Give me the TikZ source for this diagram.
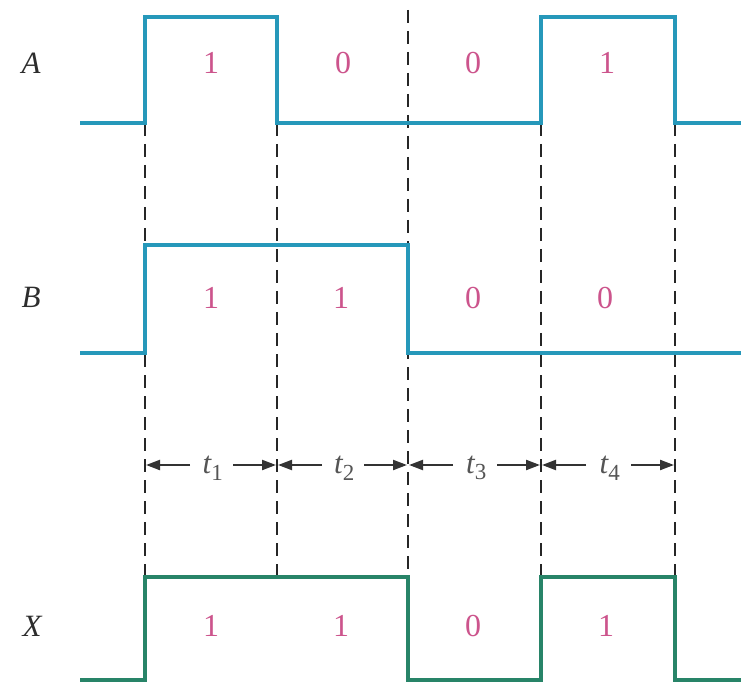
\documentclass[tikz,border=0pt]{standalone}
\usepackage{fontspec}
\setmainfont{Liberation Serif}
\usetikzlibrary{arrows.meta}
\definecolor{wavA}{RGB}{38,152,186}
\definecolor{wavX}{RGB}{40,132,104}
\definecolor{bitc}{RGB}{204,84,140}
\definecolor{lblc}{RGB}{45,45,45}
\definecolor{tc}{RGB}{85,85,85}
\tikzset{
  wave/.style={line width=3.8pt, line join=miter, line cap=butt},
  guide/.style={line width=2pt, dash pattern=on 13pt off 8pt, black!85},
  bit/.style={text=bitc, font=\fontsize{32}{34}\selectfont, inner sep=0pt},
  sig/.style={text=lblc, font=\fontsize{31}{34}\selectfont\itshape, inner sep=0pt},
  tlabel/.style={text=tc, font=\fontsize{31}{34}\selectfont\itshape, inner sep=0pt},
  span/.style={line width=2.2pt, black!80, -{Triangle[length=14pt,width=10pt]}},
}
\begin{document}
\begin{tikzpicture}[x=1pt,y=-1pt]
\useasboundingbox (0,0) rectangle (741,684);

% dashed guides at every edge
\draw[guide] (145,123) -- (145,577);
\draw[guide] (277,123) -- (277,577);
\draw[guide] (408,10) -- (408,577);
\draw[guide] (541,123) -- (541,577);
\draw[guide] (675,123) -- (675,577);

% waveform A
\draw[wave, wavA] (80,123) -- (145,123) -- (145,17) -- (277,17) -- (277,123)
  -- (541,123) -- (541,17) -- (675,17) -- (675,123) -- (741,123);
% waveform B
\draw[wave, wavA] (80,353) -- (145,353) -- (145,245) -- (408,245) -- (408,353)
  -- (741,353);
% waveform X
\draw[wave, wavX] (80,680) -- (145,680) -- (145,577) -- (408,577) -- (408,680)
  -- (541,680) -- (541,577) -- (675,577) -- (675,680) -- (741,680);

% signal names
\node[sig] (lA) at (31,63) {A};
\node[sig] (lB) at (31,297) {B};
\node[sig] (lX) at (32,626) {X};

% bit values
\node[bit] (a1) at (211,63) {1};
\node[bit] (a2) at (343,63) {0};
\node[bit] (a3) at (473,63) {0};
\node[bit] (a4) at (607,63) {1};
\node[bit] (b1) at (211,298) {1};
\node[bit] (b2) at (341,298) {1};
\node[bit] (b3) at (473,298) {0};
\node[bit] (b4) at (605,298) {0};
\node[bit] (x1) at (211,626) {1};
\node[bit] (x2) at (341,626) {1};
\node[bit] (x3) at (473,626) {0};
\node[bit] (x4) at (606,626) {1};

% interval markers between consecutive edges
\foreach \i/\l/\r in {1/145/277,2/277/408,3/408/541,4/541/675}{
  \coordinate (L\i) at (\l+1,465);
  \coordinate (R\i) at (\r-1,465);
  \coordinate (Lt\i) at (\l+45,465);
  \coordinate (Rt\i) at (\r-44,465);
  \node[tlabel] (t\i) at ({(\l+\r)/2+2},468) {t\textsubscript{\fontsize{23}{25}\selectfont\upshape\i}};
  \draw[span] (Lt\i) -- (L\i);
  \draw[span] (Rt\i) -- (R\i);
}
\end{tikzpicture}
\end{document}
